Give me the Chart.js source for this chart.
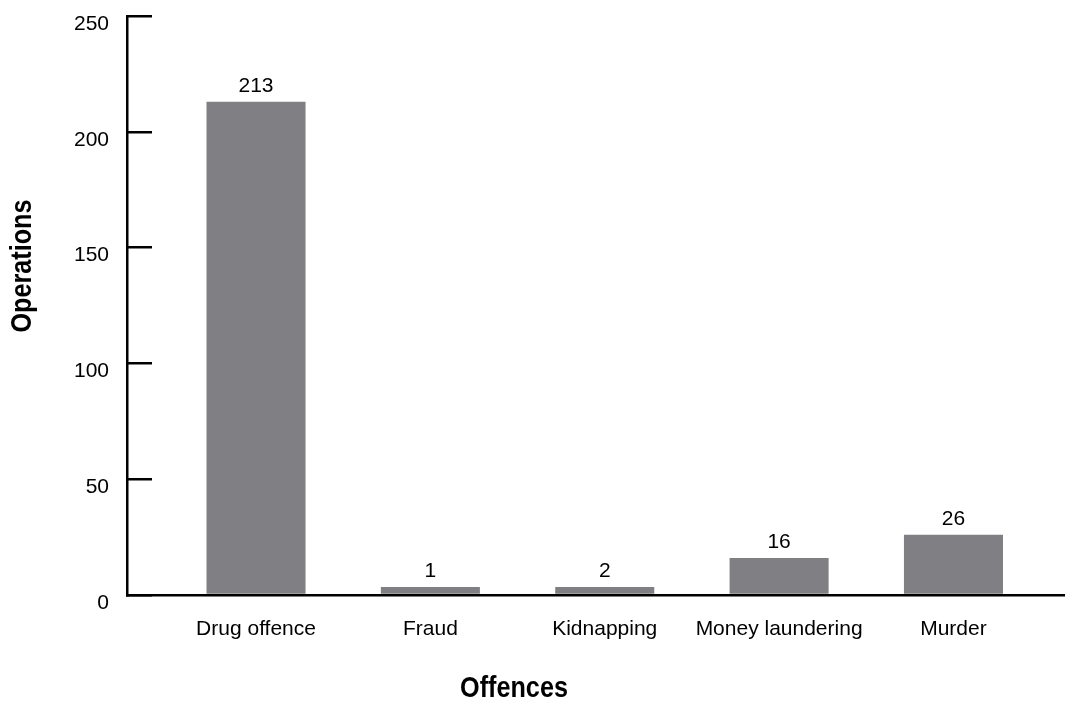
<!DOCTYPE html>
<html><head><meta charset="utf-8">
<script src="https://cdn.jsdelivr.net/npm/chart.js@4/dist/chart.umd.min.js"></script>
<style>html,body{margin:0;padding:0;background:#fff;}canvas{display:block;}</style>
</head><body>
<canvas id="c" width="1067" height="706"></canvas>
<script>
// ---- data ----
const categories = ['Drug offence', 'Fraud', 'Kidnapping', 'Money laundering', 'Murder'];
const operations = [213, 1, 2, 16, 26];
const yTicks = [0, 50, 100, 150, 200, 250];
const xTitle = 'Offences';
const yTitle = 'Operations';

// ---- style ----
const FONT = "'Liberation Sans Narrow','Arial Narrow','Liberation Sans',Arial,sans-serif";
const BAR = '#808084';

const valueLabels = {
  id: 'valueLabels',
  afterDatasetsDraw(chart) {
    const ctx = chart.ctx;
    const meta = chart.getDatasetMeta(0);
    ctx.save();
    ctx.font = '21px ' + FONT;
    ctx.fillStyle = '#000';
    ctx.textAlign = 'center';
    ctx.textBaseline = 'alphabetic';
    meta.data.forEach((bar, i) => ctx.fillText(String(operations[i]), bar.x, bar.y - 10));
    ctx.restore();
  }
};

const axisTitles = {
  id: 'axisTitles',
  afterDraw(chart) {
    const ctx = chart.ctx;
    ctx.save();
    ctx.font = 'bold 30px ' + FONT;
    ctx.fillStyle = '#000';
    ctx.textAlign = 'center';
    ctx.textBaseline = 'alphabetic';
    ctx.save();
    ctx.translate(514, 697);
    ctx.scale(0.84, 1);
    ctx.fillText(xTitle, 0, 0);
    ctx.restore();
    ctx.translate(31, 266);
    ctx.rotate(-Math.PI / 2);
    ctx.scale(0.84, 1);
    ctx.fillText(yTitle, 0, 0);
    ctx.restore();
  }
};

new Chart(document.getElementById('c'), {
  type: 'bar',
  data: {
    datasets: [{
      data: operations.map((v, i) => ({x: i, y: v})),
      backgroundColor: BAR,
      borderWidth: 0,
      barPercentage: 0.568,
      categoryPercentage: 1,
      minBarLength: 8
    }]
  },
  options: {
    responsive: false,
    animation: false,
    devicePixelRatio: 1,
    layout: {padding: {top: 16, right: 3, left: 0, bottom: 0}},
    plugins: {legend: {display: false}, tooltip: {enabled: false}},
    scales: {
      x: {
        type: 'linear',
        position: 'bottom',
        offset: false,
        min: -0.74,
        max: 4.634,
        afterBuildTicks: s => { s.ticks = categories.map((_, i) => ({value: i})); },
        afterFit: s => { s.height = 111; s.paddingLeft = 0; s.paddingRight = 0; },
        grid: {display: true, drawOnChartArea: false, drawTicks: false},
        border: {display: true, color: '#000', width: 2.5},
        ticks: {
          callback: v => categories[v],
          color: '#000',
          font: {family: FONT, size: 21},
          padding: 22,
          maxRotation: 0,
          autoSkip: false
        }
      },
      y: {
        min: 0,
        max: 250,
        afterBuildTicks: s => { s.ticks = yTicks.map(v => ({value: v})); },
        afterFit: s => { s.width = 127; s.paddingTop = 0; s.paddingBottom = 0; },
        grid: {display: true, drawOnChartArea: false, drawTicks: true, tickLength: -25, color: '#000', lineWidth: 2.5},
        border: {display: true, color: '#000', width: 2.5},
        ticks: {
          color: '#000',
          font: {family: FONT, size: 21},
          padding: 43,
          labelOffset: 8
        }
      }
    }
  },
  plugins: [valueLabels, axisTitles]
});
</script>
</body></html>
